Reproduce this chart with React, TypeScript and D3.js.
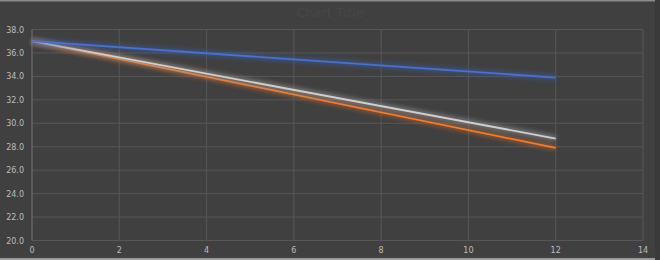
import React from "react";
import * as d3 from "d3";

const xTicks = [0, 2, 4, 6, 8, 10, 12, 14];
const yTicks = [20, 22, 24, 26, 28, 30, 32, 34, 36, 38];
const xValues = [0, 12];
const blueSeries = [37.0, 33.9];
const graySeries = [37.0, 28.7];
const orangeSeries = [37.0, 27.9];
const title = "Chart Title";

const W = 660;
const H = 260;

export default function App() {
  const x = d3.scaleLinear().domain([0, 14]).range([32, 643]);
  const y = d3.scaleLinear().domain([20, 38]).range([240.5, 29.5]);
  const line = d3
    .line<number>()
    .x((_, i) => x(xValues[i]))
    .y((d) => y(d));

  const series = [
    { name: "orange", data: orangeSeries, color: "#ed7d31", glow: "#c0622a" },
    { name: "gray", data: graySeries, color: "#cfcfcf", glow: "#9a9a9a" },
    { name: "blue", data: blueSeries, color: "#4a72c8", glow: "#3a5aa8" },
  ];

  return (
    <svg
      width={W}
      height={H}
      style={{ position: "absolute", left: 0, top: 0, display: "block" }}
      fontFamily="'DejaVu Sans', sans-serif"
    >
      <defs>
        <filter id="glow" x="-10%" y="-50%" width="120%" height="200%">
          <feGaussianBlur stdDeviation="2" />
        </filter>
      </defs>
      <rect x={0} y={0} width={W} height={H} fill="#404040" />
      <rect x={0} y={0} width={W} height={1.5} fill="#8a8a8a" />
      <rect x={0} y={258} width={W} height={2} fill="#9a9a9a" />
      <rect x={655} y={0} width={5} height={H} fill="#3a3a3a" />
      <text x={330} y={17} textAnchor="middle" fontSize={13} fill="#474747">
        {title}
      </text>
      {yTicks.map((t) => (
        <line key={"gy" + t} x1={x(0)} x2={x(14)} y1={y(t)} y2={y(t)} stroke="#575757" strokeWidth={1} />
      ))}
      {xTicks.map((t) => (
        <line key={"gx" + t} x1={x(t)} x2={x(t)} y1={y(38)} y2={y(20)} stroke="#575757" strokeWidth={1} />
      ))}
      <line x1={x(0)} x2={x(0)} y1={y(38)} y2={y(20)} stroke="#6a6a6a" strokeWidth={1} />
      {yTicks.map((t) => (
        <text key={"ly" + t} x={24} y={y(t) + 3} textAnchor="end" fontSize={8} fill="#bdbdbd">
          {t.toFixed(1)}
        </text>
      ))}
      {xTicks.map((t) => (
        <text key={"lx" + t} x={x(t)} y={253} textAnchor="middle" fontSize={8} fill="#bdbdbd">
          {t}
        </text>
      ))}
      {series.map((s) => (
        <g key={s.name}>
          <path d={line(s.data) || ""} fill="none" stroke={s.glow} strokeWidth={6} opacity={0.55} filter="url(#glow)" />
          <path d={line(s.data) || ""} fill="none" stroke={s.color} strokeWidth={1.8} />
        </g>
      ))}
    </svg>
  );
}
